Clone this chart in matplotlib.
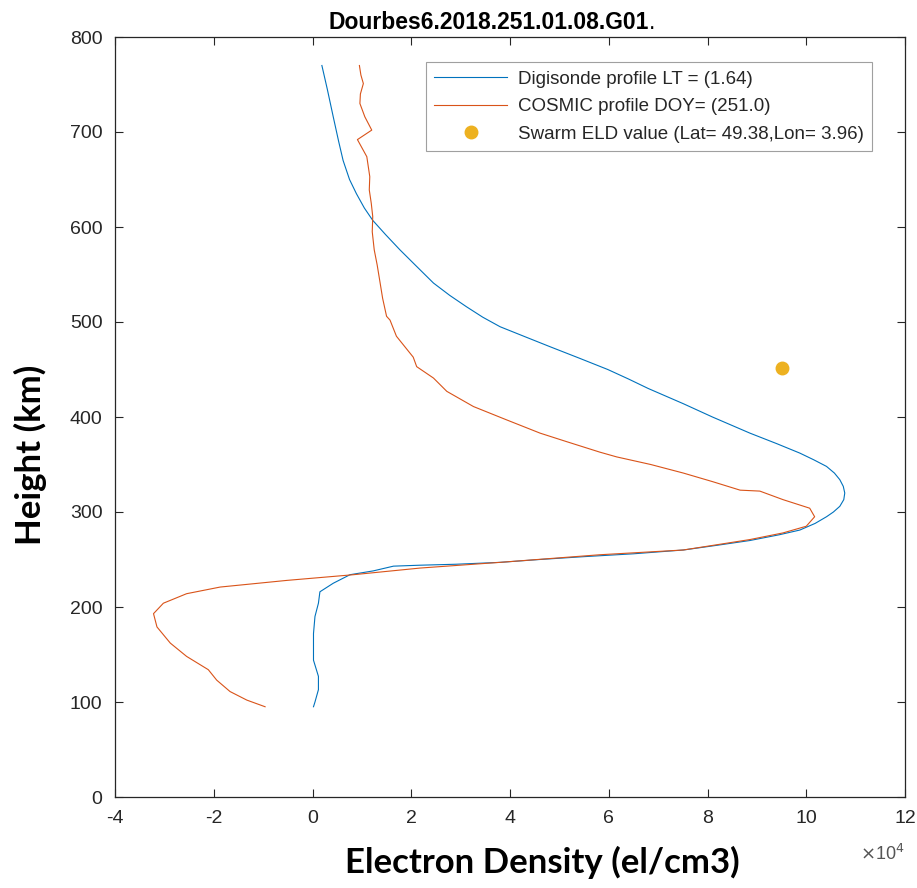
import numpy as np
import matplotlib
matplotlib.use("Agg")
import matplotlib.pyplot as plt

# electron density in units of 1e4 el/cm3, height in km
digi_height = [770, 745, 716, 690, 670, 650, 635, 620, 607, 592, 576, 560, 541, 528,
               516, 505, 495, 485, 474, 462, 450, 440, 430, 414, 400, 383, 372, 362,
               355, 348, 341, 334, 327, 320, 313, 306, 300, 295, 288, 281, 276, 270,
               265, 260, 256, 253, 250, 247, 245, 244, 243, 238, 234, 225, 216, 204,
               190, 172, 144, 127, 113, 100, 95]
digi_density = [0.19, 0.30, 0.42, 0.53, 0.62, 0.75, 0.89, 1.05, 1.22, 1.48, 1.77, 2.08,
                2.45, 2.78, 3.12, 3.45, 3.80, 4.28, 4.81, 5.40, 5.98, 6.40, 6.80, 7.51,
                8.10, 8.86, 9.40, 9.87, 10.15, 10.41, 10.57, 10.68, 10.75, 10.78, 10.76,
                10.68, 10.55, 10.41, 10.18, 9.87, 9.45, 8.86, 8.20, 7.51, 6.50, 5.50,
                4.60, 3.80, 2.90, 2.18, 1.64, 1.23, 0.76, 0.42, 0.15, 0.12, 0.05, 0.02,
                0.02, 0.12, 0.12, 0.05, 0.02]

cosmic_height = [770, 760, 751, 740, 730, 716, 702, 692, 674, 653, 639, 625, 611, 595,
                 576, 560, 541, 525, 506, 502, 485, 463, 453, 441, 427, 411, 397, 383,
                 374, 363, 358, 350, 341, 332, 323, 322, 313, 304, 295, 285, 278, 271,
                 260, 255, 247, 241, 234, 228, 221, 214, 204, 193, 179, 162, 148, 134,
                 123, 111, 102, 95]
cosmic_density = [0.95, 0.98, 1.03, 0.97, 0.96, 1.06, 1.20, 0.91, 1.10, 1.16, 1.15, 1.19,
                  1.22, 1.21, 1.25, 1.31, 1.37, 1.42, 1.50, 1.57, 1.70, 2.04, 2.11, 2.45,
                  2.72, 3.26, 3.93, 4.61, 5.15, 5.82, 6.16, 6.85, 7.51, 8.10, 8.66, 9.06,
                  9.53, 10.07, 10.17, 10.00, 9.53, 8.86, 7.51, 5.82, 3.80, 2.18, 0.83,
                  -0.52, -1.87, -2.55, -3.02, -3.22, -3.15, -2.88, -2.55, -2.11, -1.94,
                  -1.67, -1.33, -0.96]

swarm_density = [9.50]
swarm_height = [452]

x_ticks = [-4, -2, 0, 2, 4, 6, 8, 10, 12]
y_ticks = [0, 100, 200, 300, 400, 500, 600, 700, 800]

plt.rcParams["font.family"] = ["Liberation Sans", "DejaVu Sans"]
axcol = "#262626"

fig = plt.figure(figsize=(9.17, 8.88), dpi=100)
ax = fig.add_axes([115 / 917, 1 - 797 / 888, 790 / 917, 760 / 888])

ax.plot(digi_density, digi_height, color="#0072BD", lw=0.8,
        label="Digisonde profile LT = (1.64)")
ax.plot(cosmic_density, cosmic_height, color="#D95319", lw=0.8,
        label="COSMIC profile DOY= (251.0)")
ax.plot(swarm_density, swarm_height, "o", color="#EDB120", ms=9, ls="none",
        label="Swarm ELD value (Lat= 49.38,Lon= 3.96)")

ax.set_xlim(-4, 12)
ax.set_ylim(0, 800)
ax.set_xticks(x_ticks)
ax.set_yticks(y_ticks)
ax.set_xticklabels([str(t) for t in x_ticks])
ax.tick_params(direction="in", top=True, right=True, length=6, width=0.8,
               labelsize=14, colors=axcol, pad=9)
for s in ax.spines.values():
    s.set_color(axcol)
    s.set_linewidth(0.9)

leg = ax.legend(loc="upper right", bbox_to_anchor=(0.958, 0.967), borderaxespad=0,
                fancybox=False, edgecolor="#888888", fontsize=13.5,
                handlelength=3.9, handletextpad=0.55, labelspacing=0.55,
                borderpad=0.45)
leg.get_frame().set_linewidth(0.8)
for t in leg.get_texts():
    t.set_color(axcol)

title = ax.text(0.473, 1.011, "Dourbes6.2018.251.01.08.G01", transform=ax.transAxes,
                ha="center", va="baseline", fontsize=16.5, fontweight="bold",
                color="black")
ax.annotate(".", xy=(1, 0), xycoords=title, va="bottom", ha="left",
            fontsize=16.5, color="black")

ax.text(1.0, -0.062, r"$\times$10$^4$", transform=ax.transAxes, ha="right", va="top",
        fontsize=13, color="#555555")

fig.text(542 / 917, 1 - 862 / 888, "Electron Density (el/cm3)", ha="center",
         va="center", fontsize=25, fontweight="bold", family=["Lato", "DejaVu Sans"])
fig.text(30 / 917, 1 - 455 / 888, "Height (km)", ha="center", va="center",
         rotation=90, fontsize=25, fontweight="bold", family=["Lato", "DejaVu Sans"])

fig.savefig("out.png", dpi=100, facecolor="white")
